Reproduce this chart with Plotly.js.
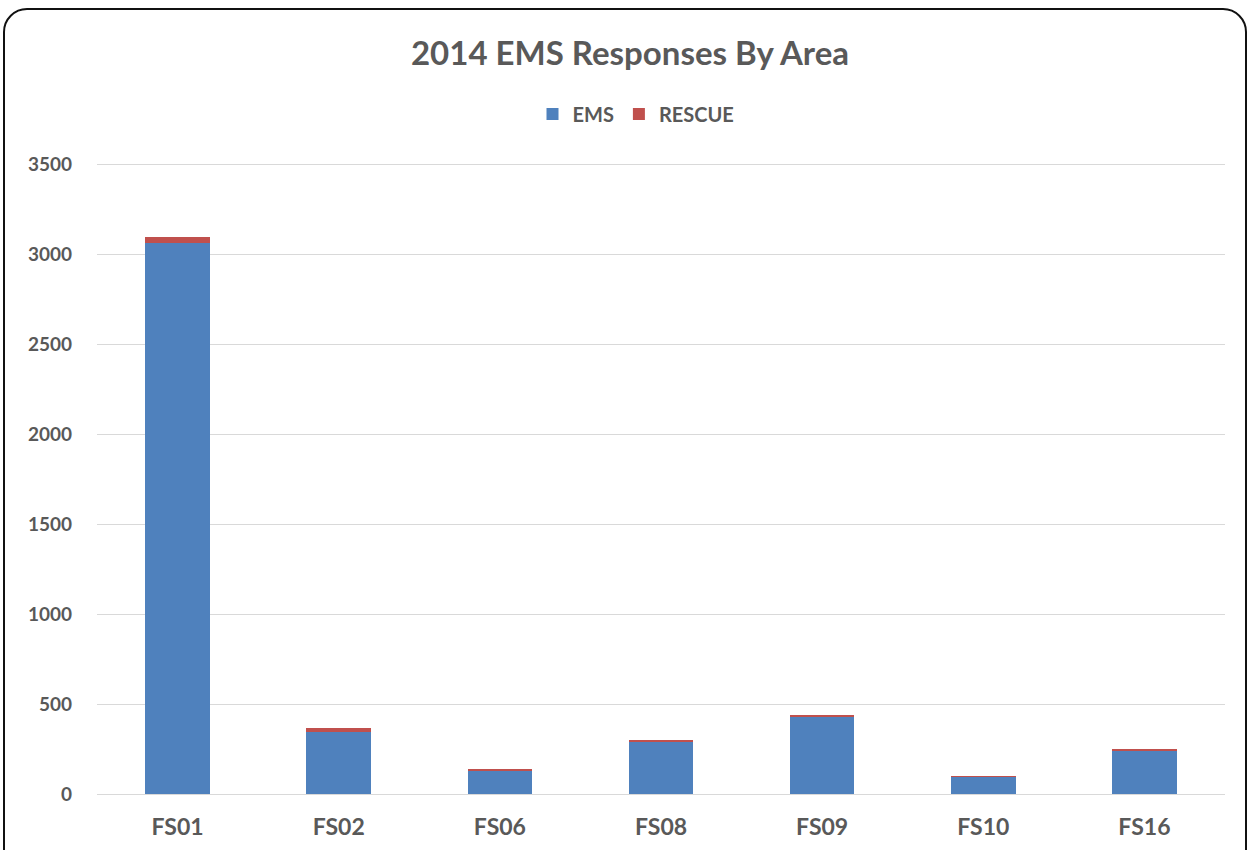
<!DOCTYPE html>
<html>
<head>
<meta charset="utf-8">
<script src="https://cdn.plot.ly/plotly-3.0.1.min.js"></script>
<style>
  html, body { margin: 0; padding: 0; background: #ffffff; overflow: hidden; }
  #wrap { position: relative; width: 1250px; height: 850px; }
  #chart { position: absolute; left: 0; top: 0; width: 1250px; height: 850px; }
  #frame {
    position: absolute; left: 3px; top: 8px; width: 1240px; height: 880px;
    border: 2px solid #111; border-radius: 24px; pointer-events: none;
  }
</style>
</head>
<body>
<div id="wrap">
  <div id="chart"></div>
  <div id="frame"></div>
</div>
<script>
// Responses per fire station area, 2014
const stations = ['FS01', 'FS02', 'FS06', 'FS08', 'FS09', 'FS10', 'FS16'];
const emsCalls = [3065, 347, 126, 291, 430, 95, 238];
const rescueCalls = [33, 22, 11, 9, 10, 7, 12];
const yTicks = [0, 500, 1000, 1500, 2000, 2500, 3000, 3500];

const grey = '#595959';
const font = 'Lato, "Open Sans", sans-serif';

const traces = [
  {
    type: 'bar', name: '<b>EMS</b>', x: stations, y: emsCalls,
    marker: { color: '#4f81bd' }
  },
  {
    type: 'bar', name: '<b>RESCUE</b>', x: stations, y: rescueCalls,
    marker: { color: '#c0504d' }
  }
];

const layout = {
  width: 1250, height: 850,
  paper_bgcolor: '#ffffff', plot_bgcolor: '#ffffff',
  margin: { l: 97, r: 25, t: 163, b: 56 },
  barmode: 'stack',
  bargap: 0.6,
  font: { family: font, color: grey },
  title: {
    text: '<b>2014 EMS Responses By Area</b>',
    font: { family: font, size: 33, color: grey },
    x: 630 / 1250, xanchor: 'center', xref: 'container',
    y: 1 - 53 / 850, yanchor: 'middle', yref: 'container'
  },
  showlegend: true,
  legend: {
    orientation: 'h',
    xref: 'container', x: 636 / 1250, xanchor: 'center',
    yref: 'container', y: 1 - 114 / 850, yanchor: 'middle',
    font: { family: font, size: 20, color: grey },
    itemwidth: 30, traceorder: 'normal'
  },
  xaxis: {
    type: 'category',
    showgrid: false, showline: true, linecolor: '#d9d9d9', linewidth: 1,
    ticks: '',
    ticklabelstandoff: 12,
    tickfont: { family: font, size: 23, color: grey },
    tickprefix: '<b>', ticksuffix: '</b>'
  },
  yaxis: {
    // a little headroom so the 3500 gridline is kept
    range: [0, 3510],
    tickvals: yTicks,
    ticktext: yTicks.map(v => '<b>' + v + '</b>'),
    showgrid: true, gridcolor: '#d9d9d9', gridwidth: 1,
    zeroline: false, showline: false, ticks: '',
    ticklabelstandoff: 24,
    tickfont: { family: font, size: 19, color: grey }
  }
};

Plotly.newPlot('chart', traces, layout, { displayModeBar: false, staticPlot: true });
</script>
</body>
</html>
